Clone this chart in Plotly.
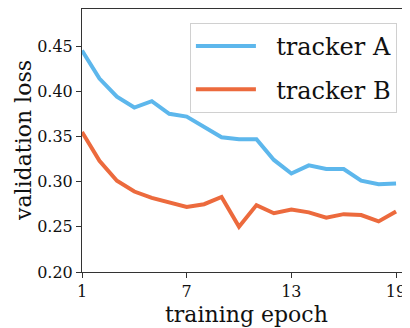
import plotly.graph_objects as go

epochs = list(range(1, 20))
tracker_a = [0.445, 0.414, 0.394, 0.382, 0.389, 0.375, 0.372, 0.360, 0.349, 0.347,
             0.347, 0.324, 0.309, 0.318, 0.314, 0.314, 0.301, 0.297, 0.298]
tracker_b = [0.355, 0.323, 0.301, 0.289, 0.282, 0.277, 0.272, 0.275, 0.283, 0.250,
             0.274, 0.265, 0.269, 0.266, 0.260, 0.264, 0.263, 0.256, 0.267]
x_ticks = [1, 7, 13, 19]
y_ticks = [0.20, 0.25, 0.30, 0.35, 0.40, 0.45]

FONT = "DejaVu Serif"
PAD = "\u00a0\u00a0"

fig = go.Figure()
fig.add_trace(go.Scatter(x=epochs, y=tracker_a, mode="lines", name=PAD + "tracker A",
                         legendgroup="a", line=dict(color="#5DB7EC", width=4)))
fig.add_trace(go.Scatter(x=epochs, y=tracker_b, mode="lines", name=PAD + "tracker B",
                         legendgroup="b", line=dict(color="#EC6A3D", width=4)))

# the page body has an 8px default margin, so the figure is 8px smaller than the window
fig.update_layout(
    width=402, height=320,
    margin=dict(l=74, r=0, t=1, b=56),
    paper_bgcolor="white", plot_bgcolor="white",
    font=dict(family=FONT, color="#111", size=16),
    showlegend=True,
    legend=dict(x=0.329, y=0.947, xanchor="left", yanchor="top",
                bgcolor="rgba(255,255,255,0.9)", bordercolor="#d0d0d0", borderwidth=1,
                font=dict(family=FONT, size=24, color="#111"),
                itemwidth=60, tracegroupgap=9, traceorder="grouped"),
    xaxis=dict(range=[1, 19.8], tickvals=x_ticks, ticktext=[str(v) for v in x_ticks],
               showgrid=False, zeroline=False, showline=True, linecolor="#333",
               linewidth=1, mirror=True, ticks="outside", ticklen=5, tickcolor="#333",
               tickfont=dict(family=FONT, size=16), automargin=False),
    yaxis=dict(range=[0.2, 0.491], tickvals=y_ticks,
               ticktext=[f"{v:.2f}" for v in y_ticks],
               showgrid=False, zeroline=False, showline=True, linecolor="#333",
               linewidth=1, mirror=False, ticks="outside", ticklen=5, tickcolor="#333",
               tickfont=dict(family=FONT, size=16), automargin=False),
    annotations=[
        dict(text="training epoch", xref="paper", yref="paper", x=0.5, y=0,
             xanchor="center", yanchor="top", yshift=-28, showarrow=False,
             font=dict(family=FONT, size=22, color="#111")),
        dict(text="validation loss", xref="paper", yref="paper", x=0, y=0.5,
             xanchor="right", yanchor="middle", xshift=-44, textangle=-90,
             showarrow=False, font=dict(family=FONT, size=22, color="#111")),
    ],
)

fig.write_html("out.html")
